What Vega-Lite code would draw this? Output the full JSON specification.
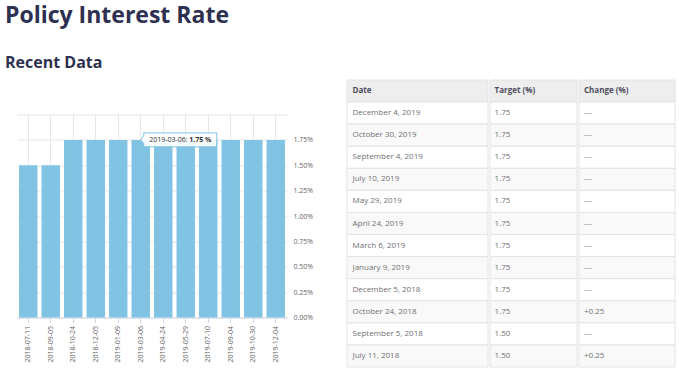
{
  "$schema": "https://vega.github.io/schema/vega-lite/v6.json",
  "background": "white",
  "padding": {"left": 5, "top": 5, "right": 5, "bottom": 5},
  "config": {"view": {"stroke": null}},
  "title": {
    "text": "Policy Interest Rate",
    "subtitle": "Recent Data",
    "anchor": "start",
    "font": "Open Sans",
    "fontSize": 23,
    "fontWeight": "bold",
    "color": "#2d3050",
    "subtitleFont": "Open Sans",
    "subtitleFontSize": 16,
    "subtitleFontWeight": "bold",
    "subtitleColor": "#2d3050",
    "subtitlePadding": 26.5,
    "offset": 9
  },
  "datasets": {
    "rates": [
      {"date": "2018-07-11", "rate": 1.5},
      {"date": "2018-09-05", "rate": 1.5},
      {"date": "2018-10-24", "rate": 1.75},
      {"date": "2018-12-05", "rate": 1.75},
      {"date": "2019-01-09", "rate": 1.75},
      {"date": "2019-03-06", "rate": 1.75},
      {"date": "2019-04-24", "rate": 1.75},
      {"date": "2019-05-29", "rate": 1.75},
      {"date": "2019-07-10", "rate": 1.75},
      {"date": "2019-09-04", "rate": 1.75},
      {"date": "2019-10-30", "rate": 1.75},
      {"date": "2019-12-04", "rate": 1.75}
    ],
    "table": [
      {"row": 0, "date": "Date", "target": "Target (%)", "change": "Change (%)"},
      {"row": 1, "date": "December 4, 2019", "target": "1.75", "change": "---"},
      {"row": 2, "date": "October 30, 2019", "target": "1.75", "change": "---"},
      {"row": 3, "date": "September 4, 2019", "target": "1.75", "change": "---"},
      {"row": 4, "date": "July 10, 2019", "target": "1.75", "change": "---"},
      {"row": 5, "date": "May 29, 2019", "target": "1.75", "change": "---"},
      {"row": 6, "date": "April 24, 2019", "target": "1.75", "change": "---"},
      {"row": 7, "date": "March 6, 2019", "target": "1.75", "change": "---"},
      {"row": 8, "date": "January 9, 2019", "target": "1.75", "change": "---"},
      {"row": 9, "date": "December 5, 2018", "target": "1.75", "change": "---"},
      {"row": 10, "date": "October 24, 2018", "target": "1.75", "change": "+0.25"},
      {"row": 11, "date": "September 5, 2018", "target": "1.50", "change": "---"},
      {"row": 12, "date": "July 11, 2018", "target": "1.50", "change": "+0.25"}
    ]
  },
  "bounds": "flush",
  "spacing": 11,
  "hconcat": [
    {
      "width": 1,
      "height": 10,
      "data": {"values": []},
      "mark": {"type": "point"}
    },
    {
      "bounds": "full",
      "spacing": 33,
      "hconcat": [
        {
          "bounds": "flush",
          "spacing": 33.5,
          "vconcat": [
            {
              "width": 1,
              "height": 1,
              "data": {"values": []},
              "mark": {"type": "point"}
            },
            {
              "width": 270,
              "height": 203,
              "data": {"name": "rates"},
              "encoding": {
                "x": {
                  "field": "date", "type": "ordinal",
                  "scale": {"type": "band", "paddingInner": 0.18, "paddingOuter": 0.09},
                  "axis": {
                    "title": null, "labelAngle": 270, "labelFont": "Open Sans", "labelFontSize": 7,
                    "labelColor": "#666666", "tickColor": "#ccd6eb", "domainColor": "#ccd6eb",
                    "tickSize": 5, "labelPadding": 3, "grid": true, "gridColor": "#e6e6e6",
                    "bandPosition": 0.5, "labelOverlap": false
                  }
                },
                "y": {
                  "field": "rate", "type": "quantitative",
                  "scale": {"domain": [0, 2], "nice": false, "zero": true},
                  "axis": {
                    "orient": "right", "title": null,
                    "values": [0, 0.25, 0.5, 0.75, 1, 1.25, 1.5, 1.75, 2],
                    "labelExpr": "datum.value >= 2 ? '' : format(datum.value, '.2f') + '%'",
                    "grid": true, "gridColor": "#e6e6e6", "domain": false, "ticks": false, "labelOverlap": false,
                    "labelPadding": 6, "labelFont": "Open Sans", "labelFontSize": 7, "labelColor": "#666666"
                  }
                }
              },
              "layer": [
                {
                  "mark": {"type": "bar", "color": "#80c3e3"}
                },
                {
                  "transform": [{"filter": "datum.date == '2019-03-06'"}],
                  "mark": {
                    "type": "point", "filled": true, "fill": "white", "fillOpacity": 0.9,
                    "stroke": "#7fc2e2", "strokeWidth": 1, "opacity": 1, "size": 5776, "xOffset": 38,
                    "shape": "M-1,0 L-0.921,-0.105 L-0.921,-0.184 L1,-0.184 L1,0.184 L-0.921,0.184 L-0.921,0.105 Z"
                  }
                },
                {
                  "transform": [
                    {"filter": "datum.date == '2019-03-06'"},
                    {"calculate": "datum.date + ':'", "as": "lab"}
                  ],
                  "mark": {"type": "text", "align": "left", "baseline": "middle", "xOffset": 8.5, "font": "Open Sans", "fontSize": 7, "color": "#333333"},
                  "encoding": {"text": {"field": "lab"}}
                },
                {
                  "transform": [
                    {"filter": "datum.date == '2019-03-06'"},
                    {"calculate": "format(datum.rate, '.2f') + ' %'", "as": "lab"}
                  ],
                  "mark": {"type": "text", "align": "left", "baseline": "middle", "xOffset": 48.5, "font": "Open Sans", "fontSize": 7, "fontWeight": "bold", "color": "#333333"},
                  "encoding": {"text": {"field": "lab"}}
                }
              ]
            }
          ]
        },
        {
          "spacing": 0,
          "hconcat": [
            {
              "width": 141, "height": 287,
              "data": {"name": "table"},
              "encoding": {"y": {"field": "row", "type": "ordinal", "scale": {"paddingInner": 0, "paddingOuter": 0}, "axis": null}},
              "layer": [
                {
                  "mark": {"type": "rect", "stroke": "#e3e3e3", "strokeWidth": 1},
                  "encoding": {
                    "x": {"value": 0}, "x2": {"value": "width"},
                    "color": {"condition": [{"test": "datum.row == 0", "value": "#eeeeee"}, {"test": "datum.row % 2 == 0", "value": "#f9f9f9"}], "value": "#ffffff"}
                  }
                },
                {
                  "transform": [{"filter": "datum.row == 0"}],
                  "mark": {"type": "text", "align": "left", "baseline": "middle", "font": "Open Sans", "fontSize": 8, "fontWeight": "bold", "color": "#4d4d5e"},
                  "encoding": {"x": {"value": 5.5}, "text": {"field": "date"}}
                },
                {
                  "transform": [{"filter": "datum.row > 0"}],
                  "mark": {"type": "text", "align": "left", "baseline": "middle", "font": "Open Sans", "fontSize": 8, "color": "#707070"},
                  "encoding": {"x": {"value": 5.5}, "text": {"field": "date"}}
                }
              ]
            },
            {
              "width": 87, "height": 287,
              "data": {"name": "table"},
              "encoding": {"y": {"field": "row", "type": "ordinal", "scale": {"paddingInner": 0, "paddingOuter": 0}, "axis": null}},
              "layer": [
                {
                  "mark": {"type": "rect", "stroke": "#e3e3e3", "strokeWidth": 1},
                  "encoding": {
                    "x": {"value": 0}, "x2": {"value": "width"},
                    "color": {"condition": [{"test": "datum.row == 0", "value": "#eeeeee"}, {"test": "datum.row % 2 == 0", "value": "#f9f9f9"}], "value": "#ffffff"}
                  }
                },
                {
                  "transform": [{"filter": "datum.row == 0"}],
                  "mark": {"type": "text", "align": "left", "baseline": "middle", "font": "Open Sans", "fontSize": 8, "fontWeight": "bold", "color": "#4d4d5e"},
                  "encoding": {"x": {"value": 4.6}, "text": {"field": "target"}}
                },
                {
                  "transform": [{"filter": "datum.row > 0"}],
                  "mark": {"type": "text", "align": "left", "baseline": "middle", "font": "Open Sans", "fontSize": 8, "color": "#707070"},
                  "encoding": {"x": {"value": 4.6}, "text": {"field": "target"}}
                }
              ]
            },
            {
              "width": 96, "height": 287,
              "data": {"name": "table"},
              "encoding": {"y": {"field": "row", "type": "ordinal", "scale": {"paddingInner": 0, "paddingOuter": 0}, "axis": null}},
              "layer": [
                {
                  "mark": {"type": "rect", "stroke": "#e3e3e3", "strokeWidth": 1},
                  "encoding": {
                    "x": {"value": 0}, "x2": {"value": "width"},
                    "color": {"condition": [{"test": "datum.row == 0", "value": "#eeeeee"}, {"test": "datum.row % 2 == 0", "value": "#f9f9f9"}], "value": "#ffffff"}
                  }
                },
                {
                  "transform": [{"filter": "datum.row == 0"}],
                  "mark": {"type": "text", "align": "left", "baseline": "middle", "font": "Open Sans", "fontSize": 8, "fontWeight": "bold", "color": "#4d4d5e"},
                  "encoding": {"x": {"value": 5}, "text": {"field": "change"}}
                },
                {
                  "transform": [{"filter": "datum.row > 0"}],
                  "mark": {"type": "text", "align": "left", "baseline": "middle", "font": "Open Sans", "fontSize": 8, "color": "#707070"},
                  "encoding": {"x": {"value": 5}, "text": {"field": "change"}}
                }
              ]
            }
          ]
        }
      ]
    }
  ]
}
